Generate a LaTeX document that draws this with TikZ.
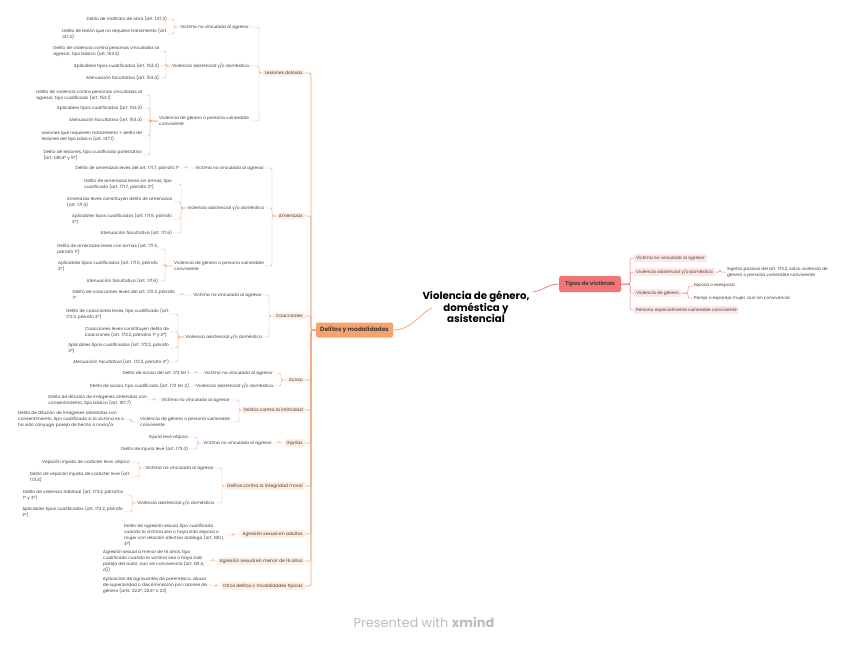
\documentclass[tikz,border=0pt]{standalone}
\usepackage{fontspec}
\setmainfont{Poppins}
\usetikzlibrary{calc}
\definecolor{oline}{HTML}{F5A878}
\definecolor{rline}{HTML}{EF7F7F}
\definecolor{catfill}{HTML}{FEEFE4}
\definecolor{rfill}{HTML}{FDE6E6}
\definecolor{dfill}{HTML}{F6A26C}
\definecolor{tfill}{HTML}{F27575}
\definecolor{txt}{HTML}{4A3B33}
\definecolor{pgray}{HTML}{BDBDBD}
\newcommand\mmlink[3]{\draw[e] (#1.west) -| ([xshift=#3]#2.east) -- (#2.east);}
\newcommand\mmtrunk[2]{\draw[trunk] (#1.west) -| ([xshift=6pt]#2.east) -- (#2.east);}
\newcommand\mmright[3]{\draw[re] (#1.east) -| ([xshift=-#3]#2.west) -- (#2.west);}
\tikzset{
 base/.style={inner sep=0.8pt, text=txt, font=\fontsize{4.3}{6}\selectfont, align=left},
 leaf/.style={base, anchor=east},
 sub/.style={base, anchor=east},
 cat/.style={base, anchor=east, fill=catfill, rounded corners=1pt, font=\fontsize{4.5}{6}\selectfont, inner xsep=2pt, inner ysep=1.6pt},
 rsub/.style={base, anchor=west, fill=rfill, rounded corners=1pt, inner xsep=2pt, inner ysep=1.6pt},
 rleaf/.style={base, anchor=west},
 e/.style={draw=oline, line width=0.45pt, rounded corners=2pt},
 trunk/.style={draw=oline, line width=0.8pt, rounded corners=2pt},
 re/.style={draw=rline, line width=0.5pt, rounded corners=2pt},
}
\begin{document}
\begin{tikzpicture}[x=1pt,y=-1pt]
\fill[white] (0,0) rectangle (848,646);
\useasboundingbox (0,0) rectangle (848,646);

% central
\node[font=\fontsize{10.2}{11.2}\selectfont\bfseries, text=black, align=center] (title) at (476,307) {Violencia de género,\\doméstica y\\asistencial};
\coordinate (cL) at (432,308);
\coordinate (cR) at (533,292);
\node[font=\fontsize{6}{6}\selectfont\bfseries, text=txt, fill=dfill, rounded corners=2pt, minimum width=77pt, minimum height=15pt, inner sep=1pt] (delitos) at (354.5,330) {Delitos y modalidades};
\node[font=\fontsize{5.5}{6}\selectfont\bfseries, text=txt, fill=tfill, rounded corners=2pt, minimum width=62pt, minimum height=16pt, inner sep=1pt] (tipos) at (590,284) {Tipos de víctimas};
\draw[draw=oline, line width=0.8pt] (delitos.east) .. controls (412,330) and (420,313) .. (cL);
\draw[draw=rline, line width=0.8pt] (cR) .. controls (545,290) and (548,284) .. (tipos.west);

% right side
\node[rsub] (r1) at (634,258) {Víctima no vinculada al agresor};
\node[rsub] (r2) at (634,272) {Violencia asistencial y/o doméstica};
\node[rsub] (r3) at (634,293) {Violencia de género};
\node[rsub] (r4) at (634,310) {Persona especialmente vulnerable conviviente};
\node[rleaf] (r2a) at (726,272) {Sujetos pasivos del art. 173.2, salvo violencia de\\género o persona vulnerable conviviente};
\node[rleaf] (r3a) at (693,286) {Esposa o exesposa};
\node[rleaf] (r3b) at (693,298) {Pareja o expareja mujer, aun sin convivencia};
\mmright{tipos}{r1}{4pt}
\mmright{tipos}{r2}{4pt}
\mmright{tipos}{r3}{4pt}
\mmright{tipos}{r4}{4pt}
\mmright{r2}{r2a}{6pt}
\mmright{r3}{r3a}{5pt}
\mmright{r3}{r3b}{5pt}

% categories
\node[cat] (c1) at (305,73) {Lesiones dolosas};
\node[cat] (c2) at (305,216) {Amenazas};
\node[cat] (c3) at (305,316) {Coacciones};
\node[cat] (c4) at (305,380) {Acoso};
\node[cat] (c5) at (305,410) {Delitos contra la intimidad};
\node[cat] (c6) at (305,443) {Injurias};
\node[cat] (c7) at (305,486) {Delitos contra la integridad moral};
\node[cat] (c8) at (305,534) {Agresión sexual en adultos};
\node[cat] (c9) at (305,561) {Agresión sexual en menor de 16 años};
\node[cat] (c10) at (305,586) {Otros delitos o modalidades típicas};
\foreach \c in {c1,c2,c3,c4,c5,c6,c7,c8,c9,c10} {\mmtrunk{delitos}{\c}}

% Lesiones dolosas
\node[sub] (s11) at (250,27) {Víctima no vinculada al agresor};
\node[sub] (s12) at (250,66) {Violencia asistencial y/o doméstica};
\node[sub] (s13) at (250,121) {Violencia de género o persona vulnerable\\conviviente};
\mmlink{c1}{s11}{9pt}\mmlink{c1}{s12}{9pt}\mmlink{c1}{s13}{9pt}
\node[leaf] (l111) at (168,19) {Delito de maltrato de obra (art. 147.3)};
\node[leaf] (l112) at (168,34) {Delito de lesión que no requiere tratamiento (art.\\147.2)};
\mmlink{s11}{l111}{6pt}\mmlink{s11}{l112}{6pt}
\node[leaf] (l121) at (160,51) {Delito de violencia contra personas vinculadas al\\agresor, tipo básico (art. 153.2)};
\node[leaf] (l122) at (160,66) {Aplicables tipos cualificados (art. 153.3)};
\node[leaf] (l123) at (160,78) {Atenuación facultativa (art. 153.4)};
\mmlink{s12}{l121}{6pt}\mmlink{s12}{l122}{6pt}\mmlink{s12}{l123}{6pt}
\node[leaf] (l131) at (143,95) {Delito de violencia contra personas vinculadas al\\agresor, tipo cualificado (art. 153.1)};
\node[leaf] (l132) at (143,108) {Aplicables tipos cualificados (art. 153.3)};
\node[leaf] (l133) at (143,120) {Atenuación facultativa (art. 153.4)};
\node[leaf] (l134) at (143,136) {Lesiones que requieren tratamiento + delito de\\lesiones del tipo básico (art. 147.1)};
\node[leaf] (l135) at (143,155) {Delito de lesiones, tipo cualificado potestativo\\(art. 148.4º y 5º)};
\foreach \l in {l131,l132,l133,l134,l135} {\mmlink{s13}{\l}{7pt}}

% Amenazas
\node[sub] (s21) at (265,168) {Víctima no vinculada al agresor};
\node[sub] (s22) at (265,208) {Violencia asistencial y/o doméstica};
\node[sub] (s23) at (265,266) {Violencia de género o persona vulnerable\\conviviente};
\mmlink{c2}{s21}{7pt}\mmlink{c2}{s22}{7pt}\mmlink{c2}{s23}{7pt}
\node[leaf] (l211) at (180,168) {Delito de amenazas leves del art. 171.7, párrafo 1º};
\mmlink{s21}{l211}{6pt}
\node[leaf] (l221) at (173,184) {Delito de amenazas leves sin armas, tipo\\cualificado (art. 171.7, párrafo 2º)};
\node[leaf] (l222) at (173,202) {Amenazas leves constituyen delito de amenazas\\(art. 171.4)};
\node[leaf] (l223) at (173,219) {Aplicables tipos cualificados (art. 171.5, párrafo\\2º)};
\node[leaf] (l224) at (173,233) {Atenuación facultativa (art. 171.6)};
\foreach \l in {l221,l222,l223,l224} {\mmlink{s22}{\l}{8pt}}
\node[leaf] (l231) at (159,249) {Delito de amenazas leves con armas (art. 171.5,\\párrafo 1º)};
\node[leaf] (l232) at (159,266) {Aplicables tipos cualificados (art. 171.5, párrafo\\2º)};
\node[leaf] (l233) at (159,281) {Atenuación facultativa (art. 171.6)};
\foreach \l in {l231,l232,l233} {\mmlink{s23}{\l}{6pt}}

% Coacciones
\node[sub] (s31) at (263,295) {Víctima no vinculada al agresor};
\node[sub] (s32) at (263,337) {Violencia asistencial y/o doméstica};
\mmlink{c3}{s31}{6pt}\mmlink{c3}{s32}{6pt}
\node[leaf] (l311) at (176,295) {Delito de coacciones leves del art. 172.3, párrafo\\1º};
\mmlink{s31}{l311}{6pt}
\node[leaf] (l321) at (170,314) {Delito de coacciones leves, tipo cualificado (art.\\172.3, párrafo 2º)};
\node[leaf] (l322) at (170,332) {Coacciones leves constituyen delito de\\coacciones (art. 172.2, párrafos 1º y 2º)};
\node[leaf] (l323) at (170,348) {Aplicables tipos cualificados (art. 172.2, párrafo\\3º)};
\node[leaf] (l324) at (170,362) {Atenuación facultativa (art. 172.2, párrafo 4º)};
\foreach \l in {l321,l322,l323,l324} {\mmlink{s32}{\l}{8pt}}

% Acoso
\node[sub] (s41) at (274,373) {Víctima no vinculada al agresor};
\node[sub] (s42) at (274,386) {Violencia asistencial y/o doméstica};
\mmlink{c4}{s41}{7pt}\mmlink{c4}{s42}{7pt}
\node[leaf] (l411) at (190,373) {Delito de acoso del art. 172 ter 1};
\node[leaf] (l421) at (190,386) {Delito de acoso, tipo cualificado (art. 172 ter 2)};
\mmlink{s41}{l411}{6pt}\mmlink{s42}{l421}{6pt}

% Intimidad
\node[sub] (s51) at (231,400) {Víctima no vinculada al agresor};
\node[sub] (s52) at (231,422) {Violencia de género o persona vulnerable\\conviviente};
\mmlink{c5}{s51}{8pt}\mmlink{c5}{s52}{8pt}
\node[leaf] (l511) at (148,400) {Delito de difusión de imágenes obtenidas con\\consentimiento, tipo básico (art. 197.7)};
\node[leaf] (l521) at (125,419) {Delito de difusión de imágenes obtenidas con\\consentimiento, tipo cualificado si la víctima es o\\ha sido cónyuge, pareja de hecho o novio/a};
\mmlink{s51}{l511}{6pt}\mmlink{s52}{l521}{6pt}

% Injurias
\node[sub] (s61) at (273,443) {Víctima no vinculada al agresor};
\mmlink{c6}{s61}{6pt}
\node[leaf] (l611) at (189,437) {Injuria leve atípico};
\node[leaf] (l612) at (189,449) {Delito de injuria leve (art. 173.4)};
\mmlink{s61}{l611}{8pt}\mmlink{s61}{l612}{8pt}

% Integridad moral
\node[sub] (s71) at (215,468) {Víctima no vinculada al agresor};
\node[sub] (s72) at (215,503) {Violencia asistencial y/o doméstica};
\mmlink{c7}{s71}{7pt}\mmlink{c7}{s72}{7pt}
\node[leaf] (l711) at (131,462) {Vejación injusta de carácter leve: atípico};
\node[leaf] (l712) at (131,477) {Delito de vejación injusta de carácter leve (art.\\173.4)};
\mmlink{s71}{l711}{8pt}\mmlink{s71}{l712}{8pt}
\node[leaf] (l721) at (124,495) {Delito de violencia habitual (art. 173.2, párrafos\\1º y 3º)};
\node[leaf] (l722) at (124,512) {Aplicables tipos cualificados (art. 173.2, párrafo\\2º)};
\mmlink{s72}{l721}{8pt}\mmlink{s72}{l722}{8pt}

% Agresion / otros
\node[leaf] (l81) at (225,535) {Delito de agresión sexual, tipo cualificado\\cuando la víctima sea o haya sido esposa o\\mujer con relación afectiva análoga (art. 180.1,\\4º)};
\node[leaf] (l91) at (205,561) {Agresión sexual a menor de 16 años, tipo\\cualificado cuando la víctima sea o haya sido\\pareja del autor, aun sin convivencia (art. 181.4,\\d))};
\node[leaf] (l101) at (208,585) {Aplicación de agravantes de parentesco, abuso\\de superioridad o discriminación por razones de\\género (arts. 22.2º, 22.4º o 23)};
\mmlink{c8}{l81}{8pt}\mmlink{c9}{l91}{8pt}\mmlink{c10}{l101}{8pt}

% footer
\node[font=\fontsize{12.9}{14}\selectfont, text=pgray] (footer) at (424,622) {Presented with \textbf{xmind}};
\end{tikzpicture}
\end{document}
